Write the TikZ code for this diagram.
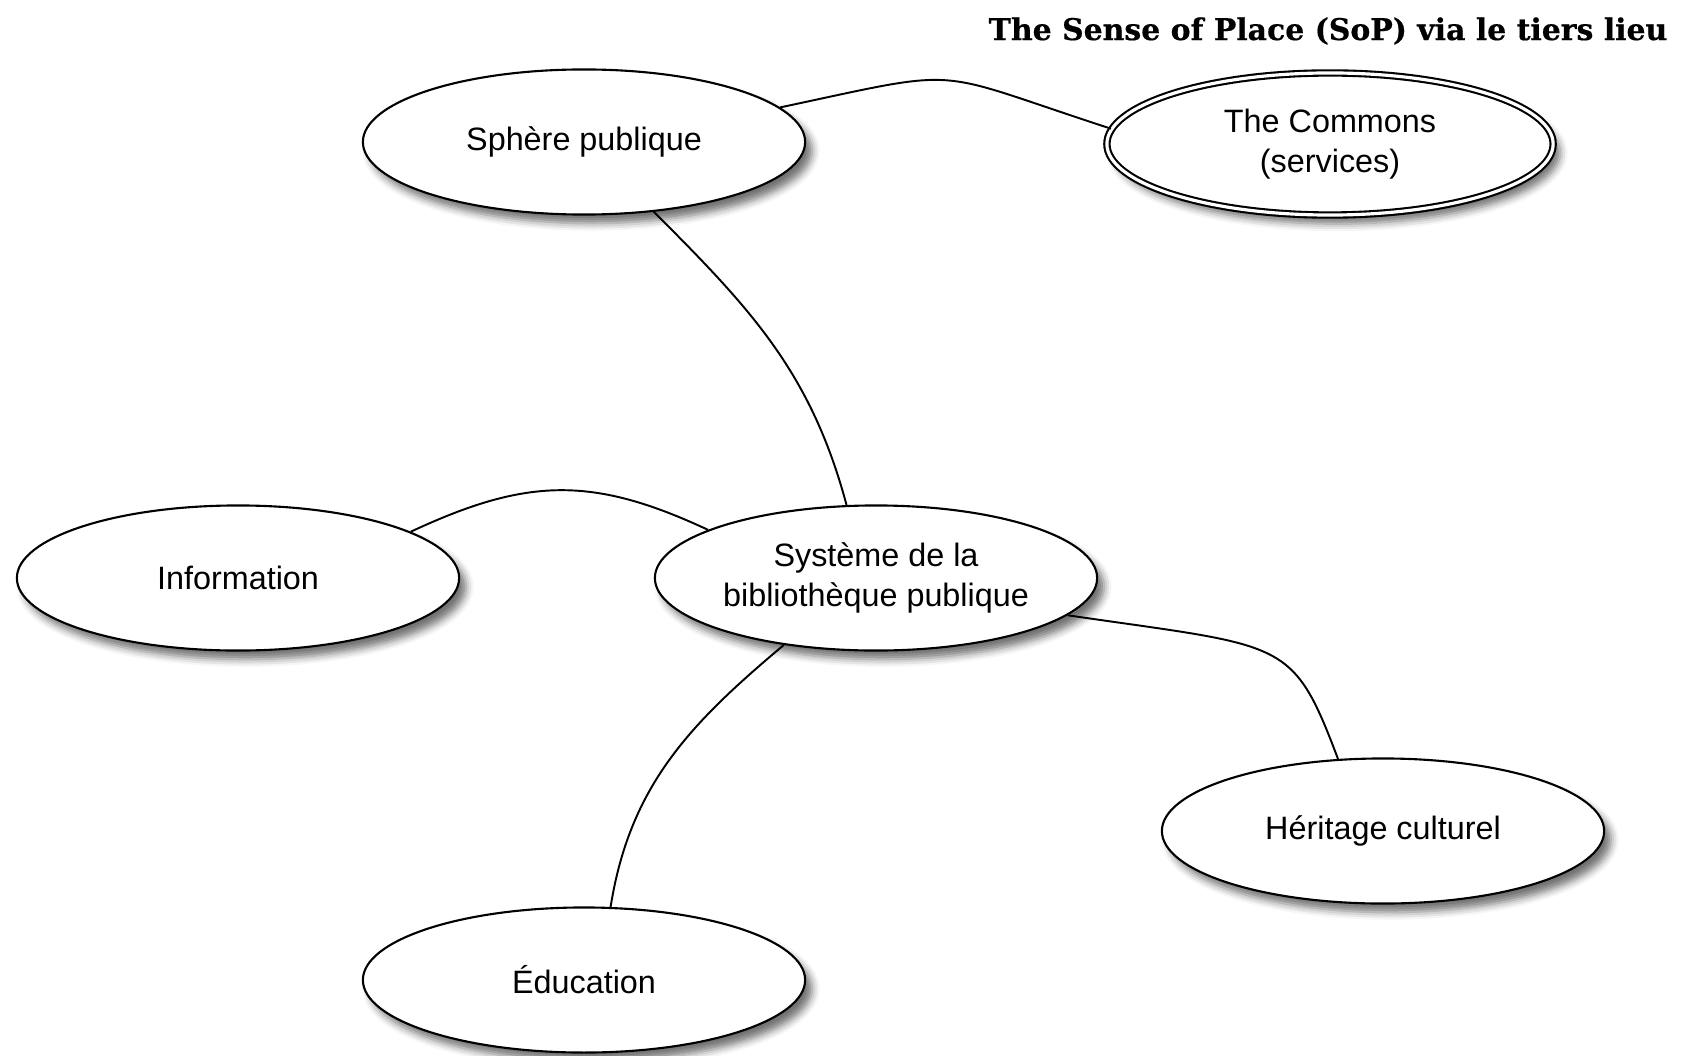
\documentclass[tikz,border=0pt]{standalone}
\usepackage{fontspec}
\setmainfont{Liberation Sans}
\newfontfamily\titlefont{DejaVu Serif}[BoldFeatures = {FakeBold = 0.5}]
\usetikzlibrary{shapes.geometric,shadows.blur}

\begin{document}
\begin{tikzpicture}[x = 0.01cm, y = 0.01cm, line width = 0.6pt,
  lieu/.style = {ellipse, draw, fill = white, inner sep = 0, align = center,
    minimum width = 4.42cm, minimum height = 1.45cm,
    font = \fontsize{9.2}{11.5}\selectfont,
    blur shadow = {shadow xshift = 2pt, shadow yshift = -2.5pt, shadow opacity = 55}},
  lien/.style = {line width = 0.55pt}]
\useasboundingbox (0,0) rectangle (1686,-1055);
\node[font = \titlefont\bfseries\fontsize{8.5}{10}\selectfont] (titre) at (1328,-31) {The Sense of Place (SoP) via le tiers lieu};
\node[lieu] (sphere) at (584,-142) {Sphère publique};
\node[lieu, double, double distance = 0.9pt, minimum width = 4.46cm, minimum height = 1.42cm] (commons) at (1330,-144) {The Commons\\(services)};
\node[lieu] (info) at (238,-578) {Information};
\node[lieu] (systeme) at (876,-578) {Système de la\\bibliothèque publique};
\node[lieu] (heritage) at (1383,-831) {Héritage culturel};
\node[lieu] (education) at (584,-980) {Éducation};
\draw[lien] (sphere.10) to[out = 12, in = 162, looseness = 1.5] (commons.176);
\draw[lien] (sphere.315) to[out = -45, in = 105] (systeme.112);
\draw[lien] (info.15) to[out = 25, in = 155, looseness = 1.1] (systeme.164);
\draw[lien] (systeme.349) .. controls +(218,-32) and +(-46,122) .. (heritage.122);
\draw[lien] (systeme.216) to[out = -140, in = 81] (education.70);
\end{tikzpicture}
\end{document}
